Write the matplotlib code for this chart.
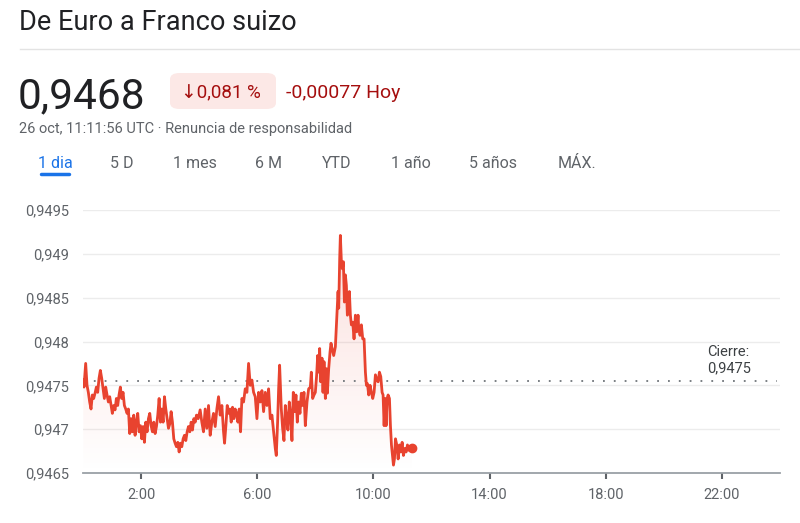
import matplotlib
matplotlib.use("Agg")
import matplotlib.pyplot as plt
import numpy as np
from matplotlib.patches import FancyBboxPatch, Polygon
from matplotlib.lines import Line2D

# ---------------- data ----------------
hours = [0.010, 0.034, 0.092, 0.138, 0.184, 0.230, 0.276, 0.322, 0.368, 0.414,
         0.460, 0.506, 0.552, 0.598, 0.644, 0.690, 0.736, 0.782, 0.828, 0.874,
         0.920, 0.966, 1.011, 1.057, 1.103, 1.149, 1.195, 1.241, 1.287, 1.333,
         1.379, 1.425, 1.471, 1.517, 1.563, 1.609, 1.655, 1.701, 1.747, 1.793,
         1.839, 1.885, 1.931, 1.977, 2.023, 2.069, 2.115, 2.161, 2.207, 2.253,
         2.299, 2.345, 2.391, 2.437, 2.483, 2.529, 2.575, 2.621, 2.667, 2.713,
         2.759, 2.805, 2.851, 2.897, 2.943, 2.989, 3.034, 3.080, 3.126, 3.172,
         3.218, 3.264, 3.310, 3.356, 3.402, 3.448, 3.494, 3.540, 3.586, 3.632,
         3.678, 3.724, 3.770, 3.816, 3.862, 3.908, 3.966,
         4.034, 4.092, 4.149, 4.207, 4.264, 4.322, 4.379, 4.437, 4.494, 4.552,
         4.609, 4.667, 4.724, 4.782, 4.839, 4.874, 4.920, 4.966, 5.011, 5.057,
         5.103, 5.149, 5.195, 5.241, 5.287, 5.333, 5.379, 5.425, 5.471, 5.529,
         5.586, 5.644, 5.701, 5.759, 5.816, 5.874, 5.931, 5.989, 6.046, 6.103,
         6.161, 6.218, 6.276, 6.333, 6.391, 6.448, 6.506, 6.563, 6.621, 6.655,
         6.701, 6.736, 6.770, 6.828, 6.874, 6.920, 6.966, 7.011, 7.057, 7.103,
         7.149, 7.195, 7.241, 7.287, 7.333, 7.379, 7.425, 7.471, 7.517, 7.563,
         7.609, 7.655, 7.713, 7.770, 7.828,
         7.862, 7.908, 7.954, 8.000, 8.046, 8.080, 8.115, 8.149, 8.184, 8.230,
         8.264, 8.299, 8.345, 8.379, 8.414, 8.460, 8.506, 8.540, 8.575, 8.632,
         8.690, 8.747, 8.782, 8.805, 8.839, 8.862, 8.897, 8.931, 8.966, 9.000,
         9.034, 9.069, 9.103, 9.138, 9.172, 9.207, 9.241, 9.287, 9.333, 9.379,
         9.425, 9.471, 9.494, 9.540, 9.586, 9.632, 9.678, 9.724, 9.759, 9.793,
         9.839, 9.885, 9.931, 9.977, 10.023, 10.069, 10.115, 10.161, 10.207, 10.253,
         10.299, 10.333, 10.368, 10.402, 10.437, 10.471, 10.506, 10.552, 10.586, 10.621,
         10.655, 10.690, 10.724, 10.759, 10.805, 10.851, 10.897, 10.943, 10.989, 11.034,
         11.080, 11.126, 11.172, 11.218, 11.276, 11.333]
rates = [0.94756, 0.94748, 0.94775, 0.94750, 0.94742, 0.94731, 0.94723, 0.94739, 0.94735, 0.94741,
         0.94748, 0.94742, 0.94758, 0.94767, 0.94758, 0.94746, 0.94735, 0.94748, 0.94739, 0.94731,
         0.94737, 0.94727, 0.94718, 0.94727, 0.94722, 0.94735, 0.94727, 0.94739, 0.94748, 0.94735,
         0.94742, 0.94727, 0.94723, 0.94718, 0.94723, 0.94695, 0.94712, 0.94697, 0.94716, 0.94693,
         0.94708, 0.94718, 0.94697, 0.94704, 0.94689, 0.94703, 0.94685, 0.94708, 0.94697, 0.94712,
         0.94718, 0.94704, 0.94697, 0.94708, 0.94695, 0.94703, 0.94716, 0.94735, 0.94708, 0.94723,
         0.94708, 0.94737, 0.94723, 0.94712, 0.94701, 0.94706, 0.94720, 0.94708, 0.94689, 0.94684,
         0.94680, 0.94685, 0.94674, 0.94684, 0.94680, 0.94689, 0.94693, 0.94687, 0.94697, 0.94703,
         0.94697, 0.94708, 0.94699, 0.94712, 0.94708, 0.94716, 0.94712,
         0.94722, 0.94708, 0.94697, 0.94723, 0.94701, 0.94727, 0.94693, 0.94708, 0.94718, 0.94703,
         0.94723, 0.94737, 0.94716, 0.94727, 0.94697, 0.94684, 0.94704, 0.94727, 0.94718, 0.94723,
         0.94708, 0.94725, 0.94712, 0.94723, 0.94718, 0.94708, 0.94723, 0.94697, 0.94735, 0.94731,
         0.94746, 0.94742, 0.94775, 0.94750, 0.94756, 0.94742, 0.94737, 0.94712, 0.94742, 0.94731,
         0.94744, 0.94720, 0.94742, 0.94727, 0.94746, 0.94712, 0.94716, 0.94697, 0.94678, 0.94670,
         0.94708, 0.94746, 0.94773, 0.94723, 0.94701, 0.94687, 0.94727, 0.94712, 0.94699, 0.94731,
         0.94716, 0.94687, 0.94742, 0.94720, 0.94739, 0.94708, 0.94731, 0.94718, 0.94741, 0.94727,
         0.94742, 0.94704, 0.94731, 0.94746, 0.94748,
         0.94765, 0.94735, 0.94739, 0.94742, 0.94762, 0.94784, 0.94765, 0.94792, 0.94754, 0.94781,
         0.94742, 0.94777, 0.94735, 0.94769, 0.94741, 0.94769, 0.94788, 0.94798, 0.94792, 0.94784,
         0.94794, 0.94834, 0.94857, 0.94838, 0.94895, 0.94921, 0.94891, 0.94883, 0.94891, 0.94845,
         0.94876, 0.94864, 0.94830, 0.94838, 0.94857, 0.94830, 0.94819, 0.94822, 0.94803, 0.94830,
         0.94811, 0.94830, 0.94815, 0.94807, 0.94819, 0.94803, 0.94803, 0.94765, 0.94750, 0.94752,
         0.94739, 0.94750, 0.94742, 0.94735, 0.94742, 0.94762, 0.94756, 0.94754, 0.94765, 0.94760,
         0.94742, 0.94739, 0.94704, 0.94735, 0.94704, 0.94735, 0.94739, 0.94735, 0.94704, 0.94682,
         0.94670, 0.94659, 0.94666, 0.94689, 0.94682, 0.94666, 0.94682, 0.94674, 0.94685, 0.94670,
         0.94678, 0.94674, 0.94682, 0.94676, 0.94680, 0.94678]
prev_close = 0.94755
y_ticks = [0.9465, 0.947, 0.9475, 0.948, 0.9485, 0.949, 0.9495]
y_labels = ["0,9465", "0,947", "0,9475", "0,948", "0,9485", "0,949", "0,9495"]
x_ticks = [2, 6, 10, 14, 18, 22]
x_labels = ["2:00", "6:00", "10:00", "14:00", "18:00", "22:00"]
tabs = ["1 dia", "5 D", "1 mes", "6 M", "YTD", "1 año", "5 años", "MÁX."]

title = "De Euro a Franco suizo"
price = "0,9468"
pct = "↓0,081 %"
chg = "-0,00077 Hoy"
subtitle = "26 oct, 11:11:56 UTC · Renuncia de responsabilidad"
close_label = "Cierre:\n0,9475"

# ---------------- style ----------------
plt.rcParams['font.family'] = ['Roboto', 'DejaVu Sans']
W, H = 800, 523
RED = '#e8432f'
fig = plt.figure(figsize=(W / 100, H / 100), dpi=100)
fig.patch.set_facecolor('white')

def fx(x):
    return x / W

def fy(y):
    return 1 - y / H

# header
fig.text(fx(19), fy(30), title, fontsize=19.5, color='#202124', va='baseline', ha='left')
fig.add_artist(Line2D([fx(20), fx(800)], [fy(49), fy(49)], color='#e3e3e3', lw=1))
fig.text(fx(18), fy(108), price, fontsize=30.5, color='#202124', va='baseline', ha='left')
pill = FancyBboxPatch((fx(170), fy(109)), fx(106), fy(73) - fy(109),
                      boxstyle="round,pad=0,rounding_size=0.012",
                      transform=fig.transFigure, facecolor='#fce8e6', edgecolor='none')
fig.add_artist(pill)
fig.text(fx(181), fy(98), pct, fontsize=13.5, color='#a50e0e', va='baseline', ha='left')
fig.text(fx(286), fy(98), chg, fontsize=14, color='#a50e0e', va='baseline', ha='left')
fig.text(fx(19), fy(133), subtitle, fontsize=10.5, color='#5f6368', va='baseline', ha='left')

tab_x = [38, 110, 173, 255, 322, 391, 469, 558]
for i, (tx, lab) in enumerate(zip(tab_x, tabs)):
    fig.text(fx(tx), fy(168), lab, fontsize=11.5, va='baseline', ha='left',
             color='#1a73e8' if i == 0 else '#5f6368')
fig.add_artist(Line2D([fx(41), fx(69)], [fy(174), fy(174)], color='#1a73e8', lw=2.5,
                      solid_capstyle='round'))

# chart axes
left, right, top, bottom = 83, 780, 210, 473
ax = fig.add_axes([fx(left), fy(bottom), fx(right - left), fy(top) - fy(bottom)])
ax.set_xlim(0, 24)
ax.set_ylim(0.9465, 0.9495)
for s in ['top', 'right', 'left']:
    ax.spines[s].set_visible(False)
ax.spines['bottom'].set_color('#9aa0a6')
ax.spines['bottom'].set_linewidth(1.3)

ax.set_yticks(y_ticks)
ax.set_yticklabels(y_labels)
ax.set_xticks(x_ticks)
ax.set_xticklabels(x_labels)
ax.tick_params(axis='y', length=0, pad=10, labelsize=10.5, labelcolor='#5f6368')
ax.tick_params(axis='x', length=4.5, width=1.5, color='#5f6368', pad=6,
               labelsize=10.5, labelcolor='#5f6368')
for yt in y_ticks[1:]:
    ax.axhline(yt, color='#ececec', lw=1, zorder=0)

# gradient fill under the line
verts = [(hours[0], 0.9465)] + list(zip(hours, rates)) + [(hours[-1], 0.9465)]
poly = Polygon(verts, closed=True, facecolor='none', edgecolor='none')
ax.add_patch(poly)
grad = np.zeros((256, 1, 4))
grad[:, 0, 0] = 0.93
grad[:, 0, 1] = 0.35
grad[:, 0, 2] = 0.30
grad[:, 0, 3] = np.linspace(0.2, 0.0, 256)
im = ax.imshow(grad, extent=(0, 24, 0.9465, 0.9493), origin='upper', aspect='auto',
               zorder=1, interpolation='bilinear')
im.set_clip_path(poly)

# previous close dotted line
ax.plot([0, 23.9], [prev_close, prev_close], color='#70757a', lw=1.3,
        linestyle=(0, (1, 5)), zorder=2)
ax.text(21.5, prev_close + 0.00007, close_label, fontsize=10.5, color='#3c4043',
        va='bottom', ha='left', linespacing=1.15)

ax.plot(hours, rates, color=RED, lw=2.0, zorder=3, solid_joinstyle='round')
ax.plot([hours[-1]], [rates[-1]], 'o', color=RED, ms=6, zorder=4)

fig.savefig('out.png', dpi=100, facecolor='white')
